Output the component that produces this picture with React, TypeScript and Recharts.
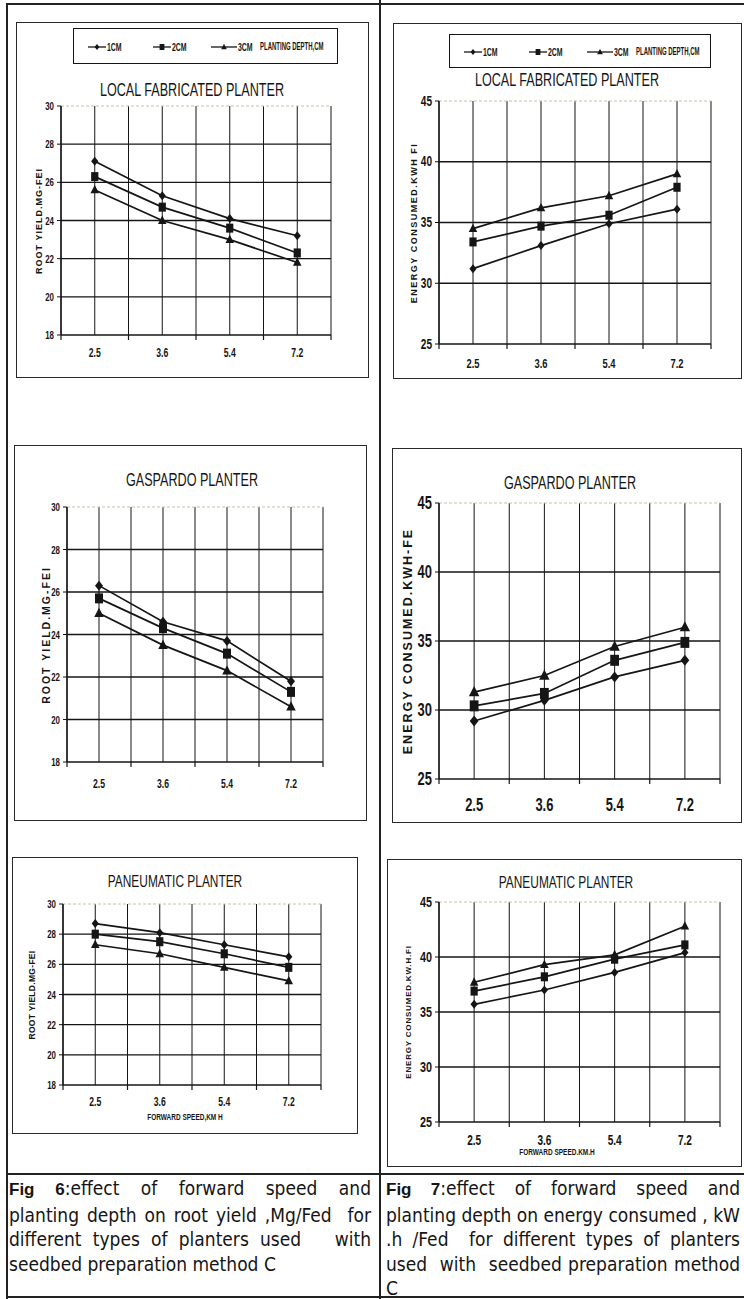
import React from "react";
import { LineChart, Line, XAxis, YAxis, CartesianGrid, ReferenceLine } from "recharts";

const speeds = ["2.5", "3.6", "5.4", "7.2"];
const depths = ["1CM", "2CM", "3CM"];

const yieldTicks = [18, 20, 22, 24, 26, 28, 30];
const energyTicks = [25, 30, 35, 40, 45];

// root yield, Mg/Fed
const localYield1 = [27.1, 25.3, 24.1, 23.2];
const localYield2 = [26.3, 24.7, 23.6, 22.3];
const localYield3 = [25.6, 24.0, 23.0, 21.8];
const gaspardoYield1 = [26.3, 24.6, 23.7, 21.8];
const gaspardoYield2 = [25.7, 24.3, 23.1, 21.3];
const gaspardoYield3 = [25.0, 23.5, 22.3, 20.6];
const pneumaticYield1 = [28.7, 28.1, 27.3, 26.5];
const pneumaticYield2 = [28.0, 27.5, 26.7, 25.8];
const pneumaticYield3 = [27.3, 26.7, 25.8, 24.9];

// energy consumed, kW.h/Fed
const localEnergy1 = [31.2, 33.1, 34.9, 36.1];
const localEnergy2 = [33.4, 34.7, 35.6, 37.9];
const localEnergy3 = [34.5, 36.2, 37.2, 39.0];
const gaspardoEnergy1 = [29.2, 30.7, 32.4, 33.6];
const gaspardoEnergy2 = [30.3, 31.2, 33.6, 34.9];
const gaspardoEnergy3 = [31.3, 32.5, 34.6, 36.0];
const pneumaticEnergy1 = [35.7, 37.0, 38.6, 40.4];
const pneumaticEnergy2 = [36.9, 38.2, 39.8, 41.1];
const pneumaticEnergy3 = [37.7, 39.3, 40.2, 42.8];

const fig6Caption = [
  "planting depth on root yield ,Mg/Fed  for",
  "different types of planters used   with",
  "seedbed preparation method C",
];
const fig7Caption = [
  "planting depth on energy consumed , kW",
  ".h /Fed  for different types of planters",
  "used  with  seedbed preparation method",
  "C",
];

const NARROW = "'Liberation Sans Narrow', 'DejaVu Sans Condensed', 'Liberation Sans', sans-serif";
const ARIAL = "'Liberation Sans', Arial, sans-serif";
const INK = "#151515";
const SQUEEZE = 0.72;

// category centres sit on half steps, boundaries on whole steps
const xTicks = speeds.flatMap((_, i) => [i, i + 0.5]).concat(speeds.length);

type Spec = {
  frame: number[];
  plot: number[];
  legend?: number[];
  title: string;
  titleX: number;
  titleY: number;
  titleSize: number;
  ticks: number[];
  series: number[][];
  yLabel: string;
  yLabelX: number;
  yLabelSize: number;
  yLabelSpacing: number;
  yTickSize: number;
  xTickSize: number;
  xLabelGap: number;
  xTitle?: string;
  xTitleX?: number;
  xTitleY?: number;
  marker: number;
};

function Marker({ kind, cx, cy, s }: any) {
  if (cx == null || cy == null) return null;
  if (kind === 0)
    return (
      <polygon
        points={`${cx},${cy - s} ${cx + s * 0.8},${cy} ${cx},${cy + s} ${cx - s * 0.8},${cy}`}
        fill={INK}
      />
    );
  if (kind === 1)
    return <rect x={cx - s * 0.8} y={cy - s} width={s * 1.6} height={s * 2} fill={INK} />;
  return (
    <polygon
      points={`${cx},${cy - s * 1.1} ${cx + s * 0.95},${cy + s * 0.75} ${cx - s * 0.95},${cy + s * 0.75}`}
      fill={INK}
    />
  );
}

function Squeezed({ x, y, size, anchor, weight = 700, squeeze = SQUEEZE, children }: any) {
  return (
    <text
      transform={`translate(${x},${y}) scale(${squeeze},1)`}
      x={0}
      y={0}
      textAnchor={anchor}
      dominantBaseline="central"
      fontSize={size}
      fontFamily={ARIAL}
      fontWeight={weight}
      fill={INK}
    >
      {children}
    </text>
  );
}

function XTick({ x, y, payload, gap, size }: any) {
  const v = payload.value;
  if (Number.isInteger(v)) {
    return <line x1={x} y1={y} x2={x} y2={y + 5} stroke={INK} strokeWidth={1.2} />;
  }
  return (
    <Squeezed x={x} y={y + gap} size={size} anchor="middle">
      {speeds[Math.floor(v)]}
    </Squeezed>
  );
}

function YTick({ x, y, payload, size }: any) {
  return (
    <Squeezed x={x} y={y} size={size} anchor="end">
      {payload.value}
    </Squeezed>
  );
}

const legendOffsets = [14, 79, 137];

function LegendBox({ box }: { box: number[] }) {
  const [x, y, w, h] = box;
  const mid = h / 2;
  return (
    <svg
      width={w}
      height={h}
      style={{ position: "absolute", left: x, top: y, border: `1.5px solid ${INK}`, boxSizing: "border-box" }}
    >
      {depths.map((d, k) => {
        const ox = legendOffsets[k];
        const len = k === 2 ? 26 : 18;
        return (
          <g key={d}>
            <line x1={ox} y1={mid} x2={ox + len} y2={mid} stroke={INK} strokeWidth={1.3} />
            <Marker kind={k} cx={ox + len / 2} cy={mid} s={3} />
            <Squeezed x={ox + len + 1} y={mid} size={10.5} anchor="start" squeeze={0.66}>
              {d}
            </Squeezed>
            {k === 2 && (
              <Squeezed x={ox + len + 23} y={mid} size={10} anchor="start" squeeze={0.6}>
                PLANTING DEPTH,CM
              </Squeezed>
            )}
          </g>
        );
      })}
    </svg>
  );
}

function Panel({ spec }: { spec: Spec }) {
  const [fx, fy, fw, fh] = spec.frame;
  const [px, py, pw, ph] = spec.plot;
  const padL = 44;
  const padT = 16;
  const padR = 8;
  const padB = 44;
  const ticks = spec.ticks;
  const data = speeds.map((s, i) => ({
    x: i + 0.5,
    speed: s,
    d0: spec.series[0][i],
    d1: spec.series[1][i],
    d2: spec.series[2][i],
  }));

  return (
    <>
      <div
        style={{
          position: "absolute",
          left: fx,
          top: fy,
          width: fw,
          height: fh,
          border: `1.5px solid #2a2a2a`,
          boxSizing: "border-box",
        }}
      />
      {spec.legend && <LegendBox box={spec.legend} />}
      <div
        style={{
          position: "absolute",
          left: spec.titleX - 150,
          top: spec.titleY - 12,
          width: 300,
          height: 24,
          lineHeight: "24px",
          textAlign: "center",
          fontFamily: ARIAL,
          fontSize: spec.titleSize,
          color: INK,
          transform: "scaleX(0.7)",
          whiteSpace: "nowrap",
        }}
      >
        {spec.title}
      </div>
      <div
        style={{
          position: "absolute",
          left: spec.yLabelX - 150,
          top: py + ph / 2 - 8,
          width: 300,
          height: 16,
          lineHeight: "16px",
          textAlign: "center",
          fontFamily: ARIAL,
          fontWeight: 700,
          fontSize: spec.yLabelSize,
          letterSpacing: spec.yLabelSpacing,
          color: INK,
          transform: "rotate(-90deg)",
          whiteSpace: "nowrap",
        }}
      >
        {spec.yLabel}
      </div>
      {spec.xTitle && (
        <div
          style={{
            position: "absolute",
            left: (spec.xTitleX ?? 0) - 100,
            top: (spec.xTitleY ?? 0) - 7,
            width: 200,
            height: 14,
            lineHeight: "14px",
            textAlign: "center",
            fontFamily: ARIAL,
            fontWeight: 700,
            fontSize: 9,
            color: INK,
            transform: "scaleX(0.72)",
          }}
        >
          {spec.xTitle}
        </div>
      )}
      <div style={{ position: "absolute", left: px - padL, top: py - padT }}>
        <LineChart
          width={pw + padL + padR}
          height={ph + padT + padB}
          data={data}
          margin={{ top: padT, right: padR, left: 0, bottom: 0 }}
        >
          <CartesianGrid horizontal={false} stroke={INK} strokeWidth={1} />
          {ticks.slice(1, -1).map((t) => (
            <ReferenceLine key={t} y={t} stroke={INK} strokeWidth={1.3} />
          ))}
          <ReferenceLine y={ticks[ticks.length - 1]} stroke="#c4c4a4" strokeDasharray="3 2" />
          <XAxis
            type="number"
            dataKey="x"
            domain={[0, speeds.length]}
            ticks={xTicks}
            interval={0}
            tickLine={false}
            tickSize={0}
            tickMargin={0}
            height={padB}
            axisLine={{ stroke: INK, strokeWidth: 1.4 }}
            tick={(p: any) => <XTick {...p} gap={spec.xLabelGap} size={spec.xTickSize} />}
          />
          <YAxis
            type="number"
            domain={[ticks[0], ticks[ticks.length - 1]]}
            ticks={ticks}
            interval={0}
            width={padL}
            tickSize={4}
            tickMargin={3}
            axisLine={{ stroke: INK, strokeWidth: 1.4 }}
            tickLine={{ stroke: INK }}
            tick={(p: any) => <YTick {...p} size={spec.yTickSize} />}
          />
          {[0, 1, 2].map((k) => (
            <Line
              key={k}
              type="linear"
              dataKey={`d${k}`}
              name={depths[k]}
              stroke={INK}
              strokeWidth={1.7}
              isAnimationActive={false}
              activeDot={false}
              dot={(p: any) => (
                <Marker key={`${k}-${p.index}`} kind={k} cx={p.cx} cy={p.cy} s={spec.marker} />
              )}
            />
          ))}
        </LineChart>
      </div>
    </>
  );
}

const panels: Spec[] = [
  {
    frame: [16, 22, 353, 356],
    plot: [61, 106, 270, 229],
    legend: [73, 28, 265, 36],
    title: "LOCAL FABRICATED PLANTER",
    titleX: 192,
    titleY: 90,
    titleSize: 18,
    ticks: yieldTicks,
    series: [localYield1, localYield2, localYield3],
    yLabel: "ROOT YIELD.MG-FEI",
    yLabelX: 39,
    yLabelSize: 9,
    yLabelSpacing: 1,
    yTickSize: 11,
    xTickSize: 12,
    xLabelGap: 18,
    marker: 4.5,
  },
  {
    frame: [393, 23, 349, 356],
    plot: [439, 101, 272, 243],
    legend: [449, 34, 262, 34],
    title: "LOCAL FABRICATED PLANTER",
    titleX: 567,
    titleY: 80,
    titleSize: 18,
    ticks: energyTicks,
    series: [localEnergy1, localEnergy2, localEnergy3],
    yLabel: "ENERGY CONSUMED.KWH FI",
    yLabelX: 414,
    yLabelSize: 9,
    yLabelSpacing: 1.5,
    yTickSize: 14,
    xTickSize: 13,
    xLabelGap: 19,
    marker: 4.5,
  },
  {
    frame: [14, 445, 353, 376],
    plot: [67, 507, 256, 255],
    title: "GASPARDO PLANTER",
    titleX: 192,
    titleY: 480,
    titleSize: 18,
    ticks: yieldTicks,
    series: [gaspardoYield1, gaspardoYield2, gaspardoYield3],
    yLabel: "ROOT YIELD.MG-FEI",
    yLabelX: 46,
    yLabelSize: 10.5,
    yLabelSpacing: 2,
    yTickSize: 11,
    xTickSize: 12,
    xLabelGap: 22,
    marker: 5,
  },
  {
    frame: [392, 448, 350, 375],
    plot: [439, 503, 281, 276],
    title: "GASPARDO PLANTER",
    titleX: 570,
    titleY: 483,
    titleSize: 18,
    ticks: energyTicks,
    series: [gaspardoEnergy1, gaspardoEnergy2, gaspardoEnergy3],
    yLabel: "ENERGY CONSUMED.KWH-FE",
    yLabelX: 408,
    yLabelSize: 12.5,
    yLabelSpacing: 2,
    yTickSize: 18,
    xTickSize: 18,
    xLabelGap: 26,
    marker: 5.5,
  },
  {
    frame: [12, 857, 346, 277],
    plot: [63, 904, 258, 181],
    title: "PANEUMATIC PLANTER",
    titleX: 175,
    titleY: 882,
    titleSize: 17,
    ticks: yieldTicks,
    series: [pneumaticYield1, pneumaticYield2, pneumaticYield3],
    yLabel: "ROOT YIELD.MG-FEI",
    yLabelX: 32,
    yLabelSize: 8.5,
    yLabelSpacing: 0.3,
    yTickSize: 11,
    xTickSize: 12,
    xLabelGap: 17,
    xTitle: "FORWARD SPEED,KM H",
    xTitleX: 185,
    xTitleY: 1117,
    marker: 4.5,
  },
  {
    frame: [387, 859, 355, 308],
    plot: [439, 902, 281, 220],
    title: "PANEUMATIC PLANTER",
    titleX: 566,
    titleY: 883,
    titleSize: 17,
    ticks: energyTicks,
    series: [pneumaticEnergy1, pneumaticEnergy2, pneumaticEnergy3],
    yLabel: "ENERGY CONSUMED.KW.H.FI",
    yLabelX: 409,
    yLabelSize: 8,
    yLabelSpacing: 0.8,
    yTickSize: 15,
    xTickSize: 14,
    xLabelGap: 18,
    xTitle: "FORWARD SPEED.KM.H",
    xTitleX: 557,
    xTitleY: 1152,
    marker: 4.5,
  },
];

function Caption({ left, width, fig, lines }: any) {
  const all = [null, ...lines];
  return (
    <div
      style={{
        position: "absolute",
        left,
        top: 1176,
        width,
        fontFamily: NARROW,
        fontSize: 19,
        lineHeight: "24.5px",
        color: INK,
      }}
    >
      {all.map((ln: string | null, i: number) => (
        <div
          key={i}
          style={{
            textAlign: "justify",
            textAlignLast: i === all.length - 1 ? "left" : "justify",
            whiteSpace: "pre",
          }}
        >
          {ln === null ? (
            <>
              <b style={{ fontFamily: ARIAL, fontSize: 17 }}>Fig </b>
              <b style={{ fontFamily: ARIAL, fontSize: 17 }}>{fig}</b>
              {":effect of forward speed and"}
            </>
          ) : (
            ln
          )}
        </div>
      ))}
    </div>
  );
}

export default function App() {
  const rule = (l: number, t: number, w: number, h: number) => (
    <div style={{ position: "absolute", left: l, top: t, width: w, height: h, background: "#222" }} />
  );
  return (
    <div
      style={{
        position: "absolute",
        left: 0,
        top: 0,
        width: 744,
        height: 1299,
        background: "#fff",
        overflow: "hidden",
      }}
    >
      {rule(6, 3, 738, 1.5)}
      {rule(6, 3, 1.5, 1296)}
      {rule(379, 0, 1.5, 1299)}
      {rule(6, 1173, 738, 1.5)}
      {rule(6, 1296, 738, 1.5)}
      {panels.map((p, i) => (
        <Panel key={i} spec={p} />
      ))}
      <Caption left={9} width={362} fig="6" lines={fig6Caption} />
      <Caption left={386} width={354} fig="7" lines={fig7Caption} />
    </div>
  );
}
